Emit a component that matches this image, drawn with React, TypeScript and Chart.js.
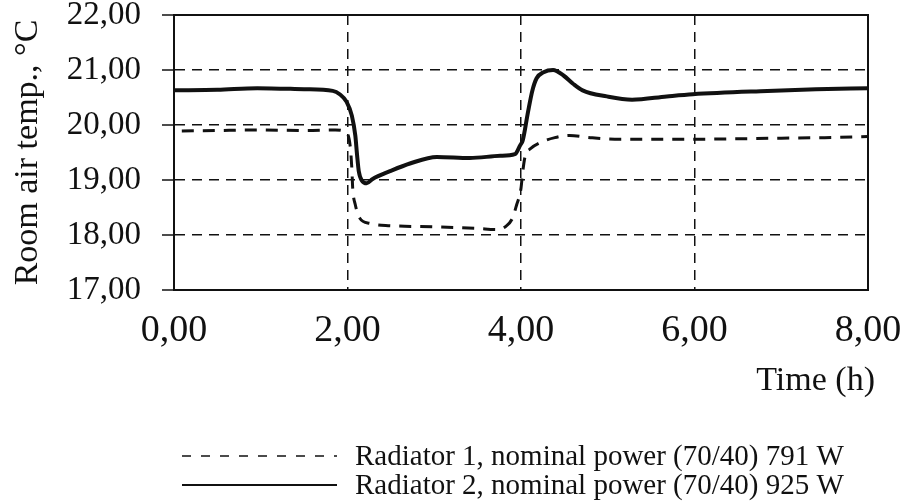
import React, { useEffect, useRef } from "react";
import { Chart, registerables } from "chart.js";

Chart.register(...registerables);

const seriesLabels = [
  "Radiator 1, nominal power (70/40) 791 W",
  "Radiator 2, nominal power (70/40) 925 W",
];

const radiator1Time = [0.09, 0.5, 1.0, 1.5, 1.86, 1.97, 2.03, 2.05, 2.06, 2.09, 2.14, 2.26, 2.49, 3.0, 3.5, 3.72, 3.82, 3.9, 3.95, 4.0, 4.02, 4.05, 4.1, 4.22, 4.39, 4.56, 4.8, 5.14, 5.6, 6.0, 6.5, 7.0, 7.5, 8.0];
const radiator1Temp = [19.89, 19.9, 19.91, 19.9, 19.91, 19.88, 19.63, 19.21, 18.85, 18.55, 18.31, 18.21, 18.17, 18.15, 18.12, 18.1, 18.15, 18.3, 18.55, 18.85, 19.15, 19.45, 19.56, 19.68, 19.77, 19.81, 19.77, 19.74, 19.74, 19.74, 19.75, 19.76, 19.77, 19.79];

const radiator2Time = [0, 0.5, 0.96, 1.5, 1.83, 1.91, 1.99, 2.05, 2.09, 2.11, 2.13, 2.17, 2.22, 2.29, 2.49, 2.72, 3.03, 3.41, 3.76, 3.93, 3.99, 4.02, 4.08, 4.13, 4.18, 4.26, 4.37, 4.49, 4.6, 4.71, 4.99, 5.28, 5.68, 5.98, 6.84, 7.4, 8.0];
const radiator2Temp = [20.63, 20.64, 20.67, 20.65, 20.62, 20.56, 20.42, 20.17, 19.81, 19.46, 19.16, 18.98, 18.94, 19.02, 19.16, 19.3, 19.42, 19.4, 19.44, 19.47, 19.63, 19.72, 20.23, 20.62, 20.85, 20.96, 21.0, 20.9, 20.75, 20.63, 20.52, 20.46, 20.52, 20.56, 20.62, 20.65, 20.67];

const yMin = 17;
const yMax = 22;
const yStep = 1;
const xMin = 0;
const xMax = 8;
const xStep = 2;
const yTitle = "Room air temp., °C";
const xTitle = "Time (h)";

const FONT = "'Liberation Serif', 'Times New Roman', serif";
const fmt = (v: number) => Number(v).toFixed(2).replace(".", ",");

const zeroPad = (s: any) => {
  s.paddingTop = 0;
  s.paddingBottom = 0;
  s.paddingLeft = 0;
  s.paddingRight = 0;
};

const overlayPlugin = {
  id: "overlay",
  afterDraw(chart: any) {
    const { ctx, chartArea } = chart;
    const { left, right, top, bottom } = chartArea;
    ctx.save();
    ctx.setLineDash([]);
    ctx.strokeStyle = "#111";
    ctx.lineWidth = 2;
    ctx.strokeRect(left, top, right - left, bottom - top);
    const ys = chart.scales.y;
    ctx.lineWidth = 1.5;
    ys.ticks.forEach((t: any) => {
      const py = ys.getPixelForValue(t.value);
      ctx.beginPath();
      ctx.moveTo(left - 12, py);
      ctx.lineTo(left, py);
      ctx.stroke();
    });
    ctx.fillStyle = "#111";
    ctx.font = `34px ${FONT}`;
    ctx.textAlign = "right";
    ctx.textBaseline = "alphabetic";
    ctx.fillText(xTitle, 875, 390);
    const ds = chart.data.datasets;
    const rows = [
      { y: 456, ty: 465 },
      { y: 485, ty: 494 },
    ];
    ds.forEach((d: any, i: number) => {
      ctx.beginPath();
      ctx.strokeStyle = "#111";
      ctx.lineWidth = i === 0 ? 1.5 : 2;
      ctx.setLineDash(i === 0 ? [9, 10] : []);
      ctx.moveTo(182, rows[i].y);
      ctx.lineTo(337, rows[i].y);
      ctx.stroke();
      ctx.setLineDash([]);
      ctx.font = `29px ${FONT}`;
      ctx.textAlign = "left";
      ctx.fillText(d.label, 355, rows[i].ty);
    });
    ctx.restore();
  },
};

export default function App() {
  const ref = useRef<HTMLCanvasElement | null>(null);
  useEffect(() => {
    if (!ref.current) return;
    const chart = new Chart(ref.current, {
      type: "line",
      data: {
        datasets: [
          {
            label: seriesLabels[0],
            data: radiator1Time.map((t, i) => ({ x: t, y: radiator1Temp[i] })),
            borderColor: "#111",
            borderWidth: 3,
            borderDash: [12, 9],
            pointRadius: 0,
            fill: false,
            cubicInterpolationMode: "monotone",
          },
          {
            label: seriesLabels[1],
            data: radiator2Time.map((t, i) => ({ x: t, y: radiator2Temp[i] })),
            borderColor: "#111",
            borderWidth: 4,
            pointRadius: 0,
            fill: false,
            cubicInterpolationMode: "monotone",
          },
        ],
      },
      options: {
        animation: false,
        responsive: false,
        layout: { autoPadding: false, padding: { left: 0, top: 15, right: 38, bottom: 0 } } as any,
        plugins: {
          legend: { display: false },
          tooltip: { enabled: false },
        },
        scales: {
          x: {
            type: "linear",
            min: xMin,
            max: xMax,
            border: { display: true, color: "#111", width: 2, dash: [10, 7] },
            grid: {
              color: "#111",
              lineWidth: 1.5,
              drawTicks: false,
            },
            ticks: {
              stepSize: xStep,
              color: "#111",
              font: { family: FONT, size: 38 },
              padding: 18,
              maxRotation: 0,
              callback: (v: any) => fmt(v),
            },
            afterFit: (s: any) => {
              s.height = 501 - 290;
              zeroPad(s);
            },
          },
          y: {
            type: "linear",
            min: yMin,
            max: yMax,
            border: { display: true, color: "#111", width: 2, dash: [10, 7] },
            grid: {
              color: "#111",
              lineWidth: 1.5,
              drawTicks: false,
            },
            ticks: {
              stepSize: yStep,
              color: "#111",
              font: { family: FONT, size: 33 },
              padding: 33,
              callback: (v: any) => fmt(v),
            },
            title: {
              display: true,
              text: yTitle,
              color: "#111",
              font: { family: FONT, size: 34 },
              padding: { top: 8, bottom: 0 },
            },
            afterFit: (s: any) => {
              s.width = 174;
              zeroPad(s);
            },
          },
        },
      } as any,
      plugins: [overlayPlugin],
    });
    return () => chart.destroy();
  }, []);
  return (
    <div style={{ position: "fixed", left: 0, top: 0, width: 906, height: 501, background: "#fff" }}>
      <canvas ref={ref} width={906} height={501} style={{ display: "block" }} />
    </div>
  );
}
